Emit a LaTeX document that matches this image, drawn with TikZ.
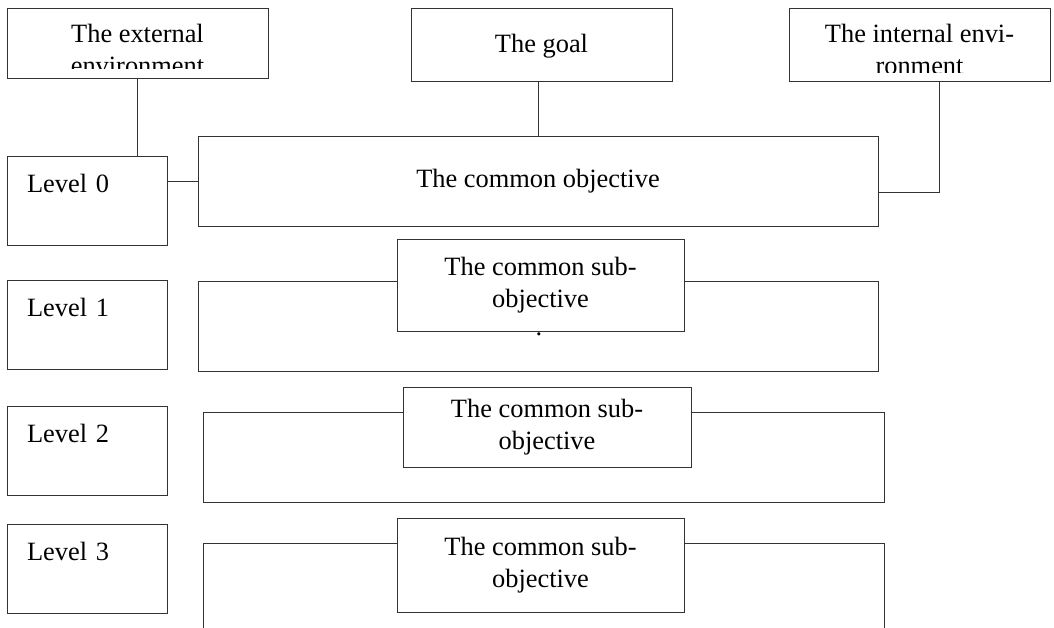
\documentclass[tikz,border=0pt]{standalone}
\usepackage{fontspec}
\setmainfont{Liberation Serif}
\usetikzlibrary{calc}

\tikzset{
  box/.style={draw=black!80,line width=0.5pt,rectangle,fill=white,inner sep=0pt,outer sep=0pt,align=center},
  lvl/.style={box,anchor=north west,align=left,text width=60pt,inner xsep=10pt,inner ysep=0pt,text height=18pt,text depth=26.5pt},
  wire/.style={draw=black!80,line width=0.5pt}
}

\begin{document}
\begin{tikzpicture}[x=0.5pt,y=-0.5pt,font=\fontsize{13.2}{16}\selectfont]
\clip (0,0) rectangle (1054,627);

\node[box,minimum width=130.5pt,minimum height=35pt] (ext) at (137.5,43) {};
\node[box,minimum width=130.5pt,minimum height=36.5pt,text height=11pt] (goal) at (541.5,44.5) {The goal};
\node[box,minimum width=130.5pt,minimum height=36.5pt] (int) at (919.5,44.5) {};

\begin{scope}
\clip (ext.north west) rectangle ($(ext.south east)+(0,-10)$);
\node[align=center,anchor=north,inner sep=0pt] (extt) at ($(ext.north)+(0,16)$) {The external\\environment};
\end{scope}
\begin{scope}
\clip (int.north west) rectangle ($(int.south east)+(0,-9)$);
\node[align=center,anchor=north,inner sep=0pt] (intt) at ($(int.north)+(0,16)$) {The internal envi-\\ronment};
\end{scope}

\node[lvl] (lv0) at (7,156) {Level 0};
\node[lvl] (lv1) at (7,280) {Level 1};
\node[lvl] (lv2) at (7,406) {Level 2};
\node[lvl] (lv3) at (7,524) {Level 3};

\node[box,minimum width=340pt,minimum height=45pt] (obj) at (538,181) {The common objective};

\node[box,minimum width=340pt,minimum height=45pt] (big1) at (538,326) {};
\node[box,minimum width=340.5pt,minimum height=45pt] (big2) at (543.5,457) {};
\node[box,minimum width=340.5pt,minimum height=45pt] (big3) at (543.5,588) {};

\node[box,minimum width=143.5pt,minimum height=46pt] (sub1) at (540.5,285) {The common sub-\\objective};
\node[box,minimum width=144pt,minimum height=40pt] (sub2) at (547,427) {The common sub-\\objective};
\node[box,minimum width=143.5pt,minimum height=47pt] (sub3) at (540.5,565) {The common sub-\\objective};
\node[inner sep=0pt] (dot) at (539,334) {.};

\draw[wire] (ext.south) -- (ext.south |- lv0.north);
\draw[wire] (lv0.east |- obj.west) -- (obj.west);
\draw[wire] (obj.north) -- (obj.north |- goal.south);
\draw[wire] ($(int.south)+(19.5,0)$) |- ($(obj.east)+(0,11)$);

\end{tikzpicture}
\end{document}
